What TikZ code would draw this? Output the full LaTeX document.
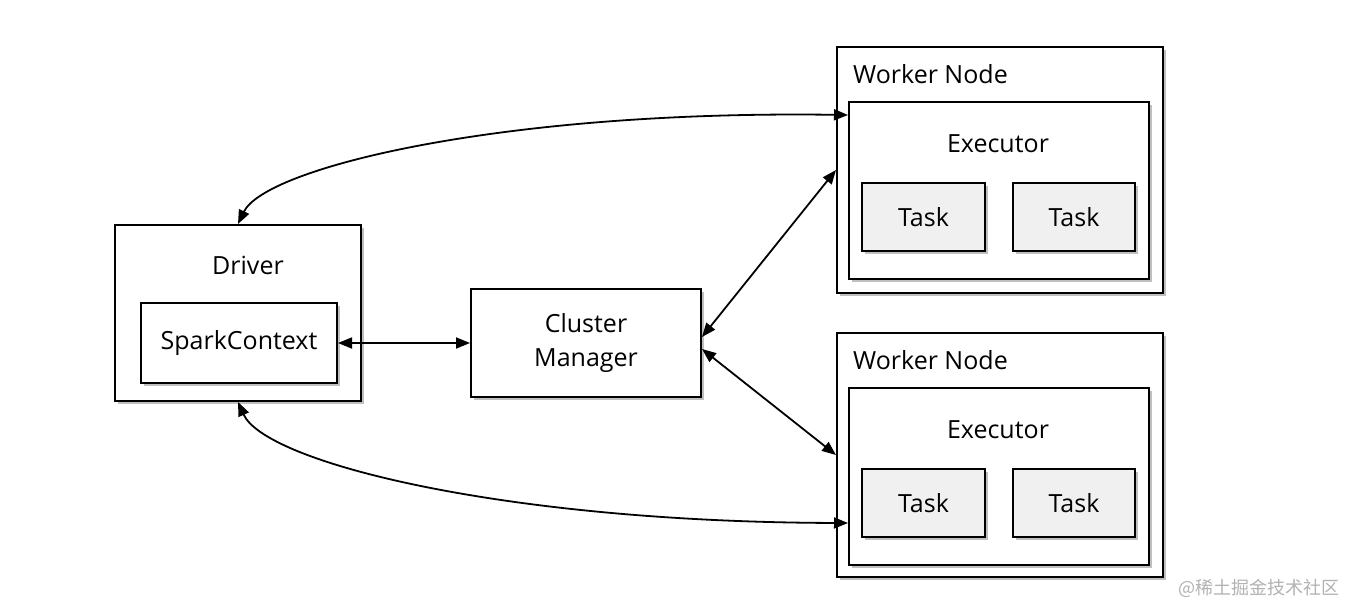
\documentclass[tikz,border=0pt]{standalone}
\usepackage{fontspec}
\setmainfont{Open Sans}
\newfontfamily\cjk{Noto Sans CJK SC}
\usetikzlibrary{arrows.meta,shadows,calc}
\tikzset{
  box/.style={draw=black, line width=2pt, fill=white, inner sep=0pt,
    drop shadow={shadow xshift=3pt, shadow yshift=-3pt, fill=black, opacity=0.25}},
  taskbox/.style={box, fill=gray!12},
  lbl/.style={font=\fontsize{25}{29}\selectfont, inner sep=0pt},
  conn/.style={line width=1.8pt, {Triangle[length=14pt,width=11pt]}-{Triangle[length=14pt,width=11pt]}},
}
\begin{document}
\begin{tikzpicture}[x=1pt,y=-1pt]
\useasboundingbox (0,0) rectangle (1358,616);
\fill[white] (0,0) rectangle (1358,616);

% Driver
\node[box, minimum width=246pt, minimum height=176pt] (drv) at (238,313) {};
\node[lbl] (drvt) at (248,265) {Driver};
\node[box, minimum width=196pt, minimum height=80pt] (sc) at (239,343) {};
\node[lbl] (sct) at (sc.center) {SparkContext};

% Cluster manager
\node[box, minimum width=230pt, minimum height=108pt, align=center, font=\fontsize{25}{34}\selectfont] (cm) at (586,343) {Cluster\\Manager};

% Worker node 1
\node[box, minimum width=326pt, minimum height=246pt] (wn1) at (1000,170) {};
\node[lbl, anchor=west] (wn1t) at (853,74) {Worker Node};
\node[box, minimum width=300pt, minimum height=177pt] (ex1) at (999,190.5) {};
\node[lbl] (ex1t) at (998,144) {Executor};
\node[taskbox, minimum width=123pt, minimum height=68pt] (t11) at (923.5,217) {};
\node[lbl] (t11t) at (t11.center) {Task};
\node[taskbox, minimum width=122pt, minimum height=68pt] (t12) at (1074,217) {};
\node[lbl] (t12t) at (t12.center) {Task};

% Worker node 2
\node[box, minimum width=326pt, minimum height=244pt] (wn2) at (1000,455) {};
\node[lbl, anchor=west] (wn2t) at (853,360) {Worker Node};
\node[box, minimum width=300pt, minimum height=177pt] (ex2) at (999,476.5) {};
\node[lbl] (ex2t) at (998,430) {Executor};
\node[taskbox, minimum width=123pt, minimum height=68pt] (t21) at (923.5,503) {};
\node[lbl] (t21t) at (t21.center) {Task};
\node[taskbox, minimum width=122pt, minimum height=68pt] (t22) at (1074,503) {};
\node[lbl] (t22t) at (t22.center) {Task};

% connectors
\draw[conn] (sc.east) -- (cm.west);
\draw[conn] ([yshift=6pt]cm.east) -- (wn1.west);
\draw[conn] ([yshift=-6pt]cm.east) -- (wn2.west);
\coordinate (e1in) at ($(ex1.north west)+(0,14)$);
\coordinate (e2in) at ($(ex2.south west)+(0,-43)$);
\draw[conn] (drv.north) .. controls (265,168) and (500,110) .. (e1in);
\draw[conn] (drv.south) .. controls (265,462) and (500,522) .. (e2in);

% watermark
\node[font=\cjk\fontsize{18}{21}\selectfont, text=gray!60, anchor=west, inner sep=0pt] (wm) at (1178,588) {@稀土掘金技术社区};
\end{tikzpicture}
\end{document}
